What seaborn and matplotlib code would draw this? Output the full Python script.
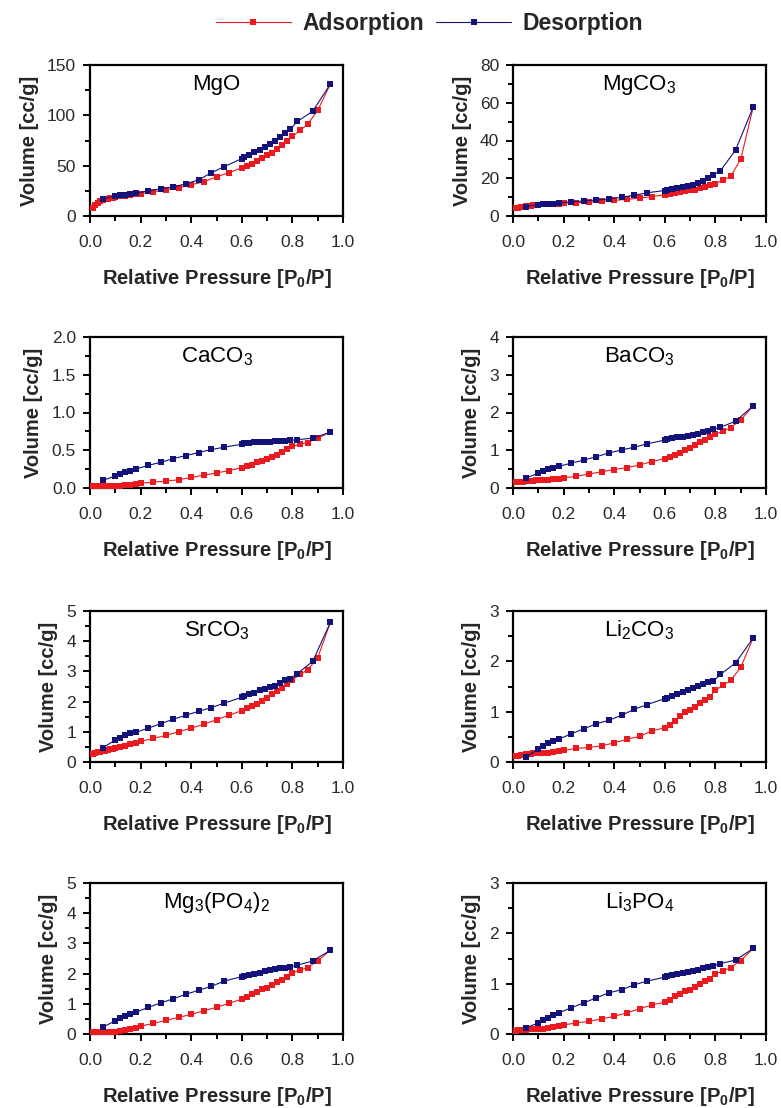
import matplotlib
matplotlib.use("Agg")
import matplotlib.pyplot as plt
from matplotlib.lines import Line2D
from matplotlib.ticker import MultipleLocator, FormatStrFormatter
import seaborn as sns

sns.set_theme(style="white")
plt.rcParams["font.family"] = ["Liberation Sans", "DejaVu Sans"]
plt.rcParams["mathtext.default"] = "regular"

# Relative pressure grids (P0/P) for the adsorption and desorption branches
ads_p = [0.01, 0.02, 0.03, 0.04, 0.05, 0.06, 0.07, 0.08, 0.09, 0.10, 0.12, 0.14,
         0.16, 0.18, 0.20, 0.25, 0.30, 0.35, 0.40, 0.45, 0.50, 0.55, 0.60, 0.62,
         0.64, 0.66, 0.68, 0.70, 0.72, 0.74, 0.76, 0.78, 0.80, 0.83, 0.86, 0.90, 0.95]
des_p = [0.95, 0.88, 0.82, 0.79, 0.77, 0.75, 0.73, 0.71, 0.69, 0.67, 0.65, 0.63,
         0.61, 0.60, 0.53, 0.48, 0.43, 0.38, 0.33, 0.28, 0.23, 0.18, 0.16, 0.14,
         0.12, 0.10, 0.05]

# Adsorbed volume (cc/g)
mgo_ads = [8, 11, 13, 14.5, 15.5, 16.5, 17, 17.5, 18, 18.5, 19.5, 20, 21, 21.5, 22,
           24, 26, 28, 31, 34, 39, 43, 48, 50, 52, 55, 57.5, 61, 63, 67, 71, 75, 79,
           85, 91, 105, 131]
mgo_des = [131, 104, 94, 86, 82, 78, 75, 72, 69, 66, 63.5, 61, 59, 57, 49, 43, 36,
           32, 29, 27, 25, 22.5, 22, 21, 20.5, 20, 17]

mgco3_ads = [4, 4.3, 4.6, 4.9, 5.1, 5.3, 5.5, 5.6, 5.8, 5.9, 6.1, 6.3, 6.5, 6.6, 6.8,
             7.0, 7.4, 7.9, 8.3, 8.8, 9.5, 10.3, 11.2, 11.6, 12.0, 12.5, 13.0, 13.6,
             14.0, 14.6, 15.3, 16.2, 17.2, 19, 21, 30, 58]
mgco3_des = [58, 35, 24, 21.5, 20, 18.5, 17.5, 16.5, 16, 15.5, 15, 14.5, 14, 13.5,
             12.3, 11, 10, 9, 8.5, 8, 7.5, 7, 6.6, 6.4, 6.2, 6, 5]

caco3_ads = [0.03, 0.03, 0.03, 0.03, 0.03, 0.03, 0.03, 0.03, 0.03, 0.03, 0.03, 0.035,
             0.04, 0.05, 0.06, 0.08, 0.09, 0.11, 0.14, 0.17, 0.20, 0.23, 0.27, 0.29,
             0.31, 0.34, 0.36, 0.39, 0.41, 0.44, 0.48, 0.51, 0.55, 0.58, 0.60, 0.66, 0.74]
caco3_des = [0.74, 0.66, 0.64, 0.63, 0.625, 0.62, 0.62, 0.615, 0.61, 0.61, 0.605, 0.60,
             0.59, 0.58, 0.54, 0.51, 0.47, 0.43, 0.39, 0.34, 0.30, 0.25, 0.23, 0.21,
             0.18, 0.16, 0.10]

baco3_ads = [0.15, 0.16, 0.17, 0.17, 0.18, 0.18, 0.19, 0.19, 0.20, 0.20, 0.21, 0.22,
             0.23, 0.24, 0.27, 0.31, 0.37, 0.43, 0.49, 0.54, 0.61, 0.70, 0.78, 0.81,
             0.88, 0.94, 1.00, 1.06, 1.13, 1.21, 1.28, 1.35, 1.43, 1.50, 1.60, 1.80, 2.18]
baco3_des = [2.18, 1.77, 1.61, 1.55, 1.51, 1.48, 1.44, 1.41, 1.38, 1.36, 1.34, 1.32,
             1.29, 1.27, 1.17, 1.08, 1.01, 0.93, 0.83, 0.74, 0.66, 0.57, 0.53, 0.50,
             0.45, 0.39, 0.26]

srco3_ads = [0.28, 0.30, 0.32, 0.34, 0.36, 0.38, 0.40, 0.42, 0.44, 0.46, 0.50, 0.54,
             0.58, 0.62, 0.68, 0.78, 0.88, 1.00, 1.12, 1.25, 1.40, 1.55, 1.70, 1.78,
             1.85, 1.93, 2.03, 2.13, 2.25, 2.36, 2.46, 2.58, 2.72, 2.90, 3.05, 3.45, 4.62]
srco3_des = [4.62, 3.33, 2.93, 2.75, 2.70, 2.62, 2.52, 2.47, 2.42, 2.38, 2.28, 2.24,
             2.18, 2.14, 1.95, 1.80, 1.68, 1.55, 1.42, 1.27, 1.12, 0.98, 0.95, 0.88,
             0.80, 0.72, 0.48]

li2co3_ads = [0.11, 0.12, 0.13, 0.14, 0.15, 0.15, 0.16, 0.17, 0.17, 0.18, 0.17, 0.18,
              0.20, 0.21, 0.23, 0.27, 0.29, 0.32, 0.38, 0.45, 0.51, 0.62, 0.68, 0.73,
              0.82, 0.91, 1.00, 1.04, 1.10, 1.17, 1.24, 1.30, 1.43, 1.52, 1.62, 1.88, 2.47]
li2co3_des = [2.47, 1.97, 1.74, 1.60, 1.58, 1.54, 1.51, 1.48, 1.44, 1.40, 1.35, 1.31,
              1.28, 1.26, 1.14, 1.05, 0.93, 0.83, 0.76, 0.66, 0.56, 0.45, 0.42, 0.37,
              0.31, 0.25, 0.10]

mg3po42_ads = [0.05, 0.05, 0.05, 0.05, 0.05, 0.05, 0.05, 0.06, 0.07, 0.08, 0.10, 0.13,
               0.17, 0.21, 0.26, 0.35, 0.45, 0.55, 0.65, 0.77, 0.88, 1.02, 1.15, 1.22,
               1.32, 1.40, 1.48, 1.53, 1.62, 1.73, 1.80, 1.90, 2.02, 2.12, 2.20, 2.42, 2.77]
mg3po42_des = [2.77, 2.42, 2.28, 2.22, 2.20, 2.17, 2.15, 2.12, 2.08, 2.02, 2.00, 1.96,
               1.92, 1.90, 1.75, 1.58, 1.45, 1.32, 1.17, 1.03, 0.88, 0.72, 0.66, 0.60,
               0.52, 0.44, 0.22]

li3po4_ads = [0.06, 0.07, 0.07, 0.08, 0.08, 0.09, 0.09, 0.09, 0.09, 0.10, 0.10, 0.11,
              0.13, 0.15, 0.18, 0.22, 0.25, 0.30, 0.35, 0.42, 0.50, 0.58, 0.63, 0.68,
              0.75, 0.80, 0.85, 0.88, 0.94, 1.00, 1.05, 1.10, 1.20, 1.25, 1.32, 1.46, 1.70]
li3po4_des = [1.70, 1.47, 1.40, 1.35, 1.33, 1.32, 1.28, 1.26, 1.24, 1.22, 1.20, 1.18,
              1.15, 1.13, 1.05, 0.98, 0.88, 0.82, 0.72, 0.62, 0.52, 0.42, 0.38, 0.32,
              0.28, 0.22, 0.12]

names = ["MgO", "MgCO$_3$", "CaCO$_3$", "BaCO$_3$",
         "SrCO$_3$", "Li$_2$CO$_3$", "Mg$_3$(PO$_4$)$_2$", "Li$_3$PO$_4$"]
ads_sets = [mgo_ads, mgco3_ads, caco3_ads, baco3_ads,
            srco3_ads, li2co3_ads, mg3po42_ads, li3po4_ads]
des_sets = [mgo_des, mgco3_des, caco3_des, baco3_des,
            srco3_des, li2co3_des, mg3po42_des, li3po4_des]
y_max = [150, 80, 2.0, 4, 5, 3, 5, 3]
y_step = [50, 20, 0.5, 1, 1, 1, 1, 1]

RED = "#ea1a1f"
NAVY = "#12127a"
TICK_COLOR = "#2a2a2a"

W, H = 781, 1108
fig = plt.figure(figsize=(W / 100, H / 100), dpi=100)

col_left = [90, 513]
row_top = [65, 337, 611, 883]
ax_w, ax_h = 253, 151

for i, name in enumerate(names):
    r, c = divmod(i, 2)
    left = col_left[c] / W
    bottom = (H - row_top[r] - ax_h) / H
    ax = fig.add_axes([left, bottom, ax_w / W, ax_h / H])

    sns.lineplot(x=ads_p, y=ads_sets[i], ax=ax, sort=False, estimator=None,
                 color=RED, lw=0.8, marker="s", markersize=4.4,
                 markeredgewidth=0, zorder=3)
    sns.lineplot(x=des_p, y=des_sets[i], ax=ax, sort=False, estimator=None,
                 color=NAVY, lw=0.8, marker="s", markersize=4.4,
                 markeredgewidth=0, zorder=4)

    ax.set_xlim(0, 1.0)
    ax.set_ylim(0, y_max[i])
    ax.xaxis.set_major_locator(MultipleLocator(0.2))
    ax.xaxis.set_minor_locator(MultipleLocator(0.1))
    ax.yaxis.set_major_locator(MultipleLocator(y_step[i]))
    ax.yaxis.set_minor_locator(MultipleLocator(y_step[i] / 2))

    for sp in ax.spines.values():
        sp.set_visible(True)
        sp.set_color("black")
        sp.set_linewidth(1.6)

    ax.tick_params(axis="both", which="both", direction="out", colors="black",
                   labelcolor=TICK_COLOR, bottom=True, left=True, top=False,
                   right=False, width=1.4)
    ax.tick_params(axis="both", which="major", length=5, labelsize=12.5)
    ax.tick_params(axis="both", which="minor", length=3.5)
    ax.tick_params(axis="x", which="major", pad=9)
    ax.tick_params(axis="y", which="major", pad=5)
    if y_step[i] < 1:
        ax.yaxis.set_major_formatter(FormatStrFormatter("%.1f"))
    ax.xaxis.set_major_formatter(FormatStrFormatter("%.1f"))

    ax.set_xlabel("Relative Pressure [P$_0$/P]", fontsize=14.5, fontweight="bold",
                  labelpad=12)
    ax.set_ylabel("Volume [cc/g]", fontsize=14.5, fontweight="bold", labelpad=6)
    ax.text(0.5, 0.87, name, transform=ax.transAxes, ha="center", va="center",
            fontsize=16, color="black")
    ax.grid(False)

handles = [
    Line2D([], [], color=RED, lw=0.8, marker="s", markersize=4.4, markeredgewidth=0),
    Line2D([], [], color=NAVY, lw=0.8, marker="s", markersize=4.4, markeredgewidth=0),
]
fig.legend(handles, ["Adsorption", "Desorption"], loc="upper center",
           bbox_to_anchor=(0.55, 1.008), ncol=2, frameon=False, handlelength=3.3,
           numpoints=1, columnspacing=0.5, handletextpad=0.5,
           prop={"weight": "bold", "size": 16.5})

fig.savefig("out.png", dpi=100)
